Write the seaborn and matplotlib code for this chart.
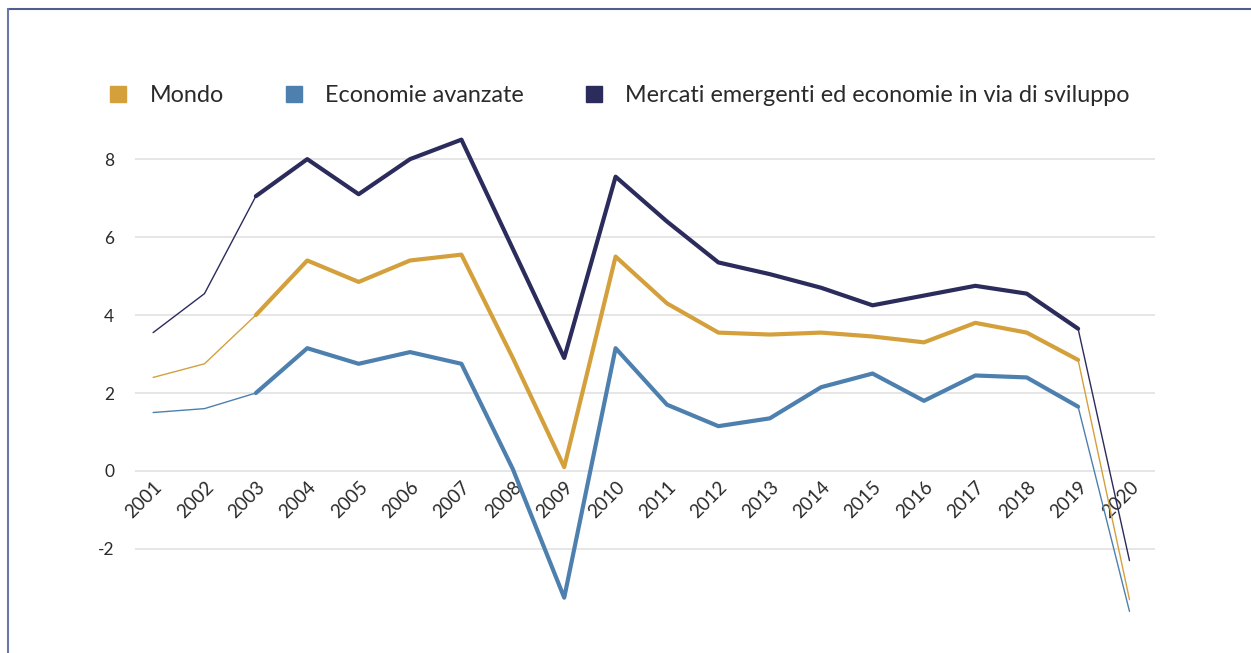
import numpy as np
import pandas as pd
import matplotlib
matplotlib.use("Agg")
import matplotlib.pyplot as plt
from matplotlib.lines import Line2D
import seaborn as sns

# ------------------------------------------------------------
# Dati
# ------------------------------------------------------------
anni = list(range(2001, 2021))
mondo = [2.4, 2.75, 4.0, 5.4, 4.85, 5.4, 5.55, 2.9, 0.1, 5.5,
         4.3, 3.55, 3.5, 3.55, 3.45, 3.3, 3.8, 3.55, 2.85, -3.3]
avanzate = [1.5, 1.6, 2.0, 3.15, 2.75, 3.05, 2.75, 0.05, -3.25, 3.15,
            1.7, 1.15, 1.35, 2.15, 2.5, 1.8, 2.45, 2.4, 1.65, -3.6]
emergenti = [3.55, 4.55, 7.05, 8.0, 7.1, 8.0, 8.5, 5.7, 2.9, 7.55,
             6.4, 5.35, 5.05, 4.7, 4.25, 4.5, 4.75, 4.55, 3.65, -2.3]

serie = ["Mondo", "Economie avanzate",
         "Mercati emergenti ed economie in via di sviluppo"]
colori = ["#d4a03c", "#4d80ae", "#2b2b5c"]
palette = dict(zip(serie, colori))

df = pd.DataFrame({"anno": anni * 3,
                   "valore": mondo + avanzate + emergenti,
                   "serie": [s for s in serie for _ in anni]})

# ------------------------------------------------------------
# Figura
# ------------------------------------------------------------
sns.set_theme(style="white")
plt.rcParams["font.family"] = ["Lato", "DejaVu Sans"]
plt.rcParams["axes.unicode_minus"] = False

fig = plt.figure(figsize=(12.51, 6.53), dpi=100)
ax = fig.add_axes([0.108, 0.028, 0.815, 0.788])

# tratti sottili (inizio e fine) + tratto spesso centrale
sns.lineplot(data=df, x="anno", y="valore", hue="serie", palette=palette,
             hue_order=serie, linewidth=1.0, legend=False, ax=ax)
centro = df[(df["anno"] >= 2003) & (df["anno"] <= 2019)]
sns.lineplot(data=centro, x="anno", y="valore", hue="serie", palette=palette,
             hue_order=serie, linewidth=3.0, legend=False, ax=ax)

# etichette degli anni sulla linea dello zero (prima di formattare i tick)
for s in ax.spines.values():
    s.set_visible(False)
ax.spines["bottom"].set_position(("data", 0))

ax.set_xlim(2000.65, 2020.49)
ax.set_ylim(-4.2, 9.0)
ax.set_yticks([-2, 0, 2, 4, 6, 8])
ax.set_xticks(anni)
ax.set_xticklabels([str(a) for a in anni], rotation=45, ha="right",
                   va="top", rotation_mode="anchor")
ax.set_xlabel("")
ax.set_ylabel("")

ax.grid(axis="y", color="#e2e2e2", linewidth=1.2)
ax.set_axisbelow(True)
ax.tick_params(axis="x", length=0, pad=5, labelsize=13.5, labelcolor="#2a2a2a")
ax.tick_params(axis="y", length=0, pad=15, labelsize=12.5, labelcolor="#2a2a2a")

# legenda con quadratini
handles = [Line2D([], [], linestyle="none", marker="s", markersize=12,
                  markerfacecolor=c, markeredgecolor=c) for c in colori]
fig.legend(handles, serie, loc="center left", bbox_to_anchor=(0.070, 0.853),
           ncol=3, frameon=False, fontsize=16.8, handlelength=0.8,
           handletextpad=0.95, columnspacing=2.6, labelcolor="#2a2a2a")

# cornice
fig.add_artist(Line2D([0.006, 1.0], [0.986, 0.986], color="#4f5d92",
                      linewidth=1.5, transform=fig.transFigure))
fig.add_artist(Line2D([0.0065, 0.0065], [0.0, 0.986], color="#6b78a8",
                      linewidth=1.5, transform=fig.transFigure))

fig.savefig("out.png", dpi=100)
